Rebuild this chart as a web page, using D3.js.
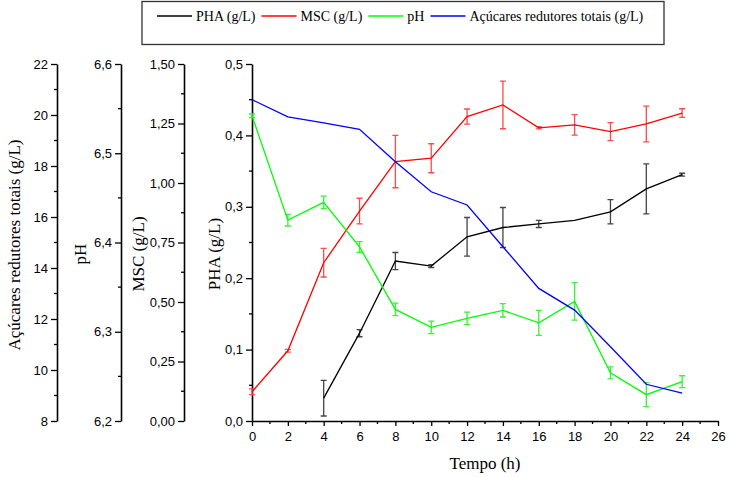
<!DOCTYPE html>
<meta charset="utf-8">

<style>
  body {
    margin: 0px;
    background: #fff;
  }

  .tick text, .num {
    font-family: "Liberation Sans", Arial, sans-serif;
    font-size: 13px;
    fill: #000;
  }

  .title, .legend text {
    font-family: "Liberation Serif", "Times New Roman", serif;
    fill: #000;
  }

  .axis path, .axis line {
    stroke: #000;
  }
</style>

<script src="https://cdn.jsdelivr.net/npm/d3@7/dist/d3.min.js"></script>

<body>
  <svg id="chart"></svg>
</body>

<script>
const width = 729;
const height = 477;

// values
const tempo = [0, 2, 4, 6, 8, 10, 12, 14, 16, 18, 20, 22, 24];
const pha = [null, null, 0.032, 0.123, 0.224, 0.217, 0.258, 0.271, 0.276, 0.281, 0.293, 0.325, 0.345];
const phaErr = [null, null, 0.025, 0.005, 0.012, 0.002, 0.027, 0.028, 0.005, 0, 0.017, 0.035, 0.002];
const msc = [0.123, 0.295, 0.665, 0.882, 1.09, 1.104, 1.279, 1.328, 1.232, 1.244, 1.216, 1.248, 1.294];
const mscErr = [0.012, 0.006, 0.06, 0.054, 0.11, 0.061, 0.032, 0.10, 0.005, 0.043, 0.038, 0.075, 0.018];
const ph = [6.542, 6.425, 6.445, 6.395, 6.325, 6.305, 6.315, 6.324, 6.310, 6.334, 6.254, 6.2295, 6.244];
const phErr = [0.002, 0.0065, 0.007, 0.006, 0.007, 0.007, 0.007, 0.0075, 0.014, 0.021, 0.0067, 0.0134, 0.0067];
const acucares = [20.6, 19.93, 19.69, 19.44, 18.17, 16.99, 16.47, 14.835, 13.20, 12.35, 10.91, 9.44, 9.09];

const legendLabels = ['PHA (g/L)', 'MSC (g/L)', 'pH', 'Açúcares redutores totais (g/L)'];

const plotTop = 64, plotBottom = 421;

const x = d3.scaleLinear().domain([0, 26]).range([252, 718]);
const yPha = d3.scaleLinear().domain([0, 0.5]).range([plotBottom, plotTop]);
const yMsc = d3.scaleLinear().domain([0, 1.5]).range([plotBottom, plotTop]);
const yPh = d3.scaleLinear().domain([6.2, 6.6]).range([plotBottom, plotTop]);
const yAcu = d3.scaleLinear().domain([8, 22]).range([plotBottom, plotTop]);

const comma = function(f) { return function(d) { return d3.format(f)(d).replace('.', ','); }; };

const svg = d3.select('#chart')
    .attr('width', width)
    .attr('height', height);

svg.append('rect')
    .attr('width', width)
    .attr('height', height)
    .attr('fill', '#fff');

// left axes: [scale, x position, major step, minor step, format, title, title x, title y]
const axes = [
  [yAcu, 57, 2, 1, comma('d'), 'Açúcares redutores totais (g/L)', 20, 245],
  [yPh, 121, 0.1, 0.05, comma('.1f'), 'pH', 86, 254],
  [yMsc, 184, 0.25, 0.125, comma('.2f'), 'MSC (g/L)', 144, 254],
  [yPha, 252, 0.1, 0.05, comma('.1f'), 'PHA (g/L)', 220, 254]
];

axes.forEach(function(a) {
  const [scale, xPos, major, minor, fmt, title, tx, ty] = a;
  const dom = scale.domain();
  const majors = d3.range(dom[0], dom[1] + major / 2, major);
  const minors = d3.range(dom[0] + minor, dom[1], major).filter(function(v) { return v < dom[1]; });

  const g = svg.append('g')
      .attr('class', 'axis')
      .attr('transform', `translate(${xPos},0)`);

  g.call(d3.axisLeft(scale).tickValues(majors).tickFormat(fmt).tickSize(6).tickSizeOuter(0).tickPadding(3));
  g.select('.domain').attr('stroke-width', 1.6);
  g.selectAll('.tick line').attr('stroke-width', 1.3);

  g.selectAll('.minor')
      .data(minors)
    .enter().append('line')
      .attr('class', 'minor')
      .attr('x1', -3).attr('x2', 0)
      .attr('y1', function(d) { return scale(d); })
      .attr('y2', function(d) { return scale(d); })
      .attr('stroke', '#000')
      .attr('stroke-width', 1.3);

  svg.append('text')
      .attr('class', 'title')
      .attr('transform', `translate(${tx},${ty}) rotate(-90)`)
      .attr('text-anchor', 'middle')
      .style('font-size', '17px')
      .text(title);
});

// bottom axis
const xg = svg.append('g')
    .attr('class', 'axis')
    .attr('transform', `translate(0,${plotBottom})`);

xg.call(d3.axisBottom(x).tickValues(d3.range(0, 27, 2)).tickSize(5).tickSizeOuter(0).tickPadding(6));
xg.select('.domain').attr('stroke-width', 1.6);
xg.selectAll('.tick line').attr('stroke-width', 1.3);
xg.selectAll('.minor')
    .data(d3.range(1, 26, 2))
  .enter().append('line')
    .attr('class', 'minor')
    .attr('x1', function(d) { return x(d); })
    .attr('x2', function(d) { return x(d); })
    .attr('y1', 0).attr('y2', 3)
    .attr('stroke', '#000')
    .attr('stroke-width', 1.3);

svg.append('text')
    .attr('class', 'title')
    .attr('x', 485)
    .attr('y', 469)
    .attr('text-anchor', 'middle')
    .style('font-size', '17px')
    .text('Tempo (h)');

// series
const series = [
  { values: pha, err: phaErr, scale: yPha, color: '#000000', errColor: '#444' },
  { values: msc, err: mscErr, scale: yMsc, color: '#ff0000', errColor: '#ff4a4a' },
  { values: ph, err: phErr, scale: yPh, color: '#00ff00', errColor: '#3cf03c' },
  { values: acucares, err: null, scale: yAcu, color: '#0000ff', errColor: null }
];

series.forEach(function(s) {
  const pts = tempo.map(function(t, i) { return { t: t, v: s.values[i], e: s.err ? s.err[i] : null }; })
      .filter(function(d) { return d.v != null; });

  const line = d3.line()
      .x(function(d) { return x(d.t); })
      .y(function(d) { return s.scale(d.v); });

  if (s.err) {
    const eb = svg.append('g')
        .attr('stroke', s.errColor)
        .attr('stroke-width', 1.3)
        .attr('fill', 'none');

    pts.filter(function(d) { return d.e; }).forEach(function(d) {
      const cx = x(d.t);
      const y1 = s.scale(d.v + d.e);
      const y2 = s.scale(d.v - d.e);
      eb.append('path')
          .attr('d', `M${cx},${y1}V${y2}M${cx - 3},${y1}H${cx + 3}M${cx - 3},${y2}H${cx + 3}`);
    });
  }

  svg.append('path')
      .datum(pts)
      .attr('fill', 'none')
      .attr('stroke', s.color)
      .attr('stroke-width', 1.3)
      .attr('d', line);
});

// legend
const legend = svg.append('g').attr('class', 'legend');

legend.append('rect')
    .attr('x', 142)
    .attr('y', 1.5)
    .attr('width', 522)
    .attr('height', 43)
    .attr('fill', '#fff')
    .attr('stroke', '#333')
    .attr('stroke-width', 1.3);

let lx = 157;
legendLabels.forEach(function(label, i) {
  legend.append('line')
      .attr('x1', lx).attr('x2', lx + 35)
      .attr('y1', 16).attr('y2', 16)
      .attr('stroke', series[i].color)
      .attr('stroke-width', 1.3);

  const t = legend.append('text')
      .attr('x', lx + 39)
      .attr('y', 21)
      .style('font-size', '14px')
      .text(label);

  lx += 39 + t.node().getComputedTextLength() + 6;
});
</script>
